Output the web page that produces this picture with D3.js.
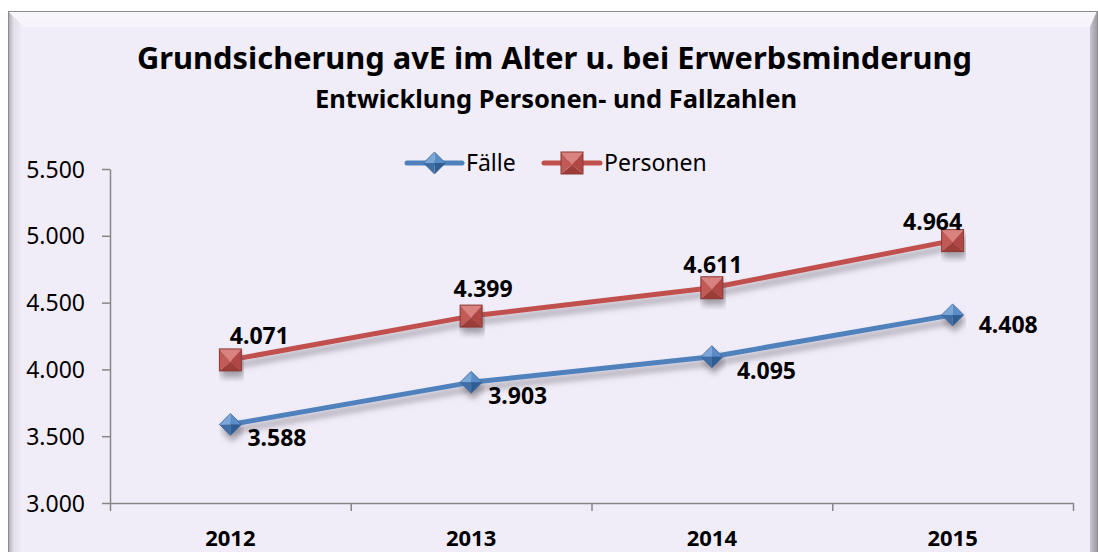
<!DOCTYPE html>
<html><head><meta charset="utf-8">
<script src="https://cdn.jsdelivr.net/npm/d3@7"></script>
<style>body{margin:0;background:#fff;}svg{display:block;}</style>
</head><body>
<script>
const years = ["2012", "2013", "2014", "2015"];
const faelle = [3588, 3903, 4095, 4408];
const personen = [4071, 4399, 4611, 4964];
const yTicks = [3000, 3500, 4000, 4500, 5000, 5500];
const seriesNames = ["Fälle", "Personen"];
const titleText = "Grundsicherung avE im Alter u. bei Erwerbsminderung";
const subtitleText = "Entwicklung Personen- und Fallzahlen";

// label placement offsets (style)
const faelleLabelOff = [[17, 22], [17, 22], [25, 22], [26, 18]];
const personenLabelOff = [[29, -16], [12, -19], [1, -15], [-20, -11]];

const W = 1098, H = 552;
const FONT = "'Noto Sans', 'Open Sans', sans-serif";
const svg = d3.select("body").append("svg").attr("width", W).attr("height", H);
const defs = svg.append("defs");

// gradients
const lg = defs.append("linearGradient").attr("id", "leftBevel").attr("x1", 0).attr("x2", 1).attr("y1", 0).attr("y2", 0);
lg.append("stop").attr("offset", "0").attr("stop-color", "#a9a6b0");
lg.append("stop").attr("offset", "0.35").attr("stop-color", "#e2dfe8");
lg.append("stop").attr("offset", "1").attr("stop-color", "#f3f0f9");
const tg = defs.append("linearGradient").attr("id", "topBevel").attr("x1", 0).attr("x2", 0).attr("y1", 0).attr("y2", 1);
tg.append("stop").attr("offset", "0").attr("stop-color", "#f9f8fc");
tg.append("stop").attr("offset", "1").attr("stop-color", "#f6f3fb");
const rg = defs.append("linearGradient").attr("id", "rightBevel").attr("x1", 0).attr("x2", 1).attr("y1", 0).attr("y2", 0);
rg.append("stop").attr("offset", "0").attr("stop-color", "#c9c5d0");
rg.append("stop").attr("offset", "1").attr("stop-color", "#9f9ca6");

const f = defs.append("filter").attr("id", "shadow").attr("x", "-10%").attr("y", "-50%").attr("width", "120%").attr("height", "200%");
f.append("feGaussianBlur").attr("in", "SourceAlpha").attr("stdDeviation", 3).attr("result", "b");
f.append("feOffset").attr("in", "b").attr("dx", 2).attr("dy", 6).attr("result", "o");
f.append("feFlood").attr("flood-color", "#6d6a75").attr("flood-opacity", 0.6);
f.append("feComposite").attr("in2", "o").attr("operator", "in").attr("result", "s");
const fm = f.append("feMerge");
fm.append("feMergeNode").attr("in", "s");
fm.append("feMergeNode").attr("in", "SourceGraphic");

// frame
const fx0 = 8, fy0 = 11, fx1 = 1097, fy1 = 560;
const bl = 16, bt = 16, br = 7;
svg.append("rect").attr("x", fx0).attr("y", fy0).attr("width", fx1 - fx0).attr("height", fy1 - fy0).attr("fill", "#f1edf8");
svg.append("polygon").attr("points", [[fx0, fy0], [fx0 + bl, fy0 + bt], [fx0 + bl, fy1], [fx0, fy1]].join(" ")).attr("fill", "url(#leftBevel)");
svg.append("polygon").attr("points", [[fx0, fy0], [fx1, fy0], [fx1 - br, fy0 + bt], [fx0 + bl, fy0 + bt]].join(" ")).attr("fill", "url(#topBevel)");
svg.append("polygon").attr("points", [[fx1, fy0], [fx1, fy1], [fx1 - br, fy1], [fx1 - br, fy0 + bt]].join(" ")).attr("fill", "url(#rightBevel)");
svg.append("rect").attr("x", fx0 + 0.5).attr("y", fy0 + 0.5).attr("width", fx1 - fx0).attr("height", fy1 - fy0).attr("fill", "none").attr("stroke", "#8c8c8c").attr("stroke-width", 1);

// titles
svg.append("text").attr("x", 554.5).attr("y", 69).attr("text-anchor", "middle")
  .attr("font-family", FONT).attr("font-weight", "bold").attr("font-size", 30).attr("fill", "#000")
  .attr("textLength", 835).attr("lengthAdjust", "spacingAndGlyphs").text(titleText);
svg.append("text").attr("x", 556).attr("y", 108).attr("text-anchor", "middle")
  .attr("font-family", FONT).attr("font-weight", "bold").attr("font-size", 25).attr("fill", "#000")
  .attr("textLength", 482).attr("lengthAdjust", "spacingAndGlyphs").text(subtitleText);

// scales
const x = d3.scaleBand().domain(years).range([110, 1073]).padding(0);
const cx = d => x(d) + x.bandwidth() / 2;
const xb = d3.scaleLinear().domain([0, years.length]).range([110, 1073]);
const y = d3.scaleLinear().domain([3000, 5500]).range([503, 169]);
const de = d3.formatLocale({decimal: ",", thousands: ".", grouping: [3], currency: ["", "€"]});
const fmt = de.format(",");

// y axis
const ya = svg.append("g").attr("transform", "translate(110,0)")
  .call(d3.axisLeft(y).tickValues(yTicks).tickSize(8).tickSizeOuter(0).tickPadding(17).tickFormat(fmt));
ya.select(".domain").attr("stroke", "#868686").attr("stroke-width", 1.5);
ya.selectAll(".tick line").attr("stroke", "#868686").attr("stroke-width", 1.5);
ya.selectAll(".tick text").attr("font-family", FONT).attr("font-size", 23).attr("fill", "#000").attr("dy", "0.35em");

// x axis
const xa = svg.append("g").attr("transform", "translate(0,503)")
  .call(d3.axisBottom(xb).ticks(years.length).tickSize(8).tickSizeOuter(0).tickFormat(""));
xa.select(".domain").attr("stroke", "#868686").attr("stroke-width", 1.5);
xa.selectAll(".tick line").attr("stroke", "#868686").attr("stroke-width", 1.5);
svg.append("g").selectAll("text").data(years).join("text")
  .attr("x", d => cx(d)).attr("y", 546).attr("text-anchor", "middle")
  .attr("font-family", FONT).attr("font-weight", "bold").attr("font-size", 22).attr("fill", "#000").text(d => d);

// markers
function diamond(g, px, py, s) {
  const T = [px, py - s], R = [px + s, py], B = [px, py + s], L = [px - s, py], C = [px, py];
  const faces = [[L, T, "#7aa6d8"], [T, R, "#5a8cc8"], [R, B, "#2f5d93"], [B, L, "#3f6ea6"]];
  faces.forEach(([a, b, c]) => g.append("polygon").attr("points", [a, b, C].join(" ")).attr("fill", c));
  g.append("polygon").attr("points", [T, R, B, L].join(" ")).attr("fill", "none").attr("stroke", "#3a6395").attr("stroke-width", 0.8);
}
function square(g, px, py, s) {
  const TL = [px - s, py - s], TR = [px + s, py - s], BR = [px + s, py + s], BL = [px - s, py + s], C = [px, py + 2];
  const faces = [[TL, TR, "#d9827f"], [TR, BR, "#b04744"], [BR, BL, "#9c3c39"], [BL, TL, "#c25a57"]];
  faces.forEach(([a, b, c]) => g.append("polygon").attr("points", [a, b, C].join(" ")).attr("fill", c));
  g.append("rect").attr("x", px - s).attr("y", py - s).attr("width", 2 * s).attr("height", 2 * s).attr("fill", "none").attr("stroke", "#8c3633").attr("stroke-width", 1);
}

const line = d3.line().x((d, i) => cx(years[i])).y(d => y(d));
const series = [
  {name: seriesNames[0], vals: faelle, color: "#4f81bd", mk: diamond, size: 11, off: faelleLabelOff, anchor: "start"},
  {name: seriesNames[1], vals: personen, color: "#c0504d", mk: square, size: 11, off: personenLabelOff, anchor: "middle"}
];

series.forEach(s => {
  svg.append("path").datum(s.vals).attr("d", line).attr("fill", "none").attr("stroke", s.color)
    .attr("stroke-width", 5).attr("stroke-linejoin", "round").attr("filter", "url(#shadow)");
});
series.forEach(s => {
  s.vals.forEach((v, i) => {
    const g = svg.append("g").attr("filter", "url(#shadow)");
    s.mk(g, cx(years[i]), y(v), s.size);
  });
  svg.append("g").selectAll("text").data(s.vals).join("text")
    .attr("x", (v, i) => cx(years[i]) + s.off[i][0]).attr("y", (v, i) => y(v) + s.off[i][1])
    .attr("text-anchor", s.anchor).attr("font-family", FONT).attr("font-weight", "bold").attr("font-size", 23).attr("fill", "#000")
    .text(v => fmt(v));
});

// legend
const legend = [
  {s: series[0], x0: 407, x1: 462, tx: 466},
  {s: series[1], x0: 544, x1: 600, tx: 604}
];
legend.forEach(l => {
  const ly = 163;
  svg.append("line").attr("x1", l.x0).attr("x2", l.x1).attr("y1", ly).attr("y2", ly)
    .attr("stroke", l.s.color).attr("stroke-width", 5).attr("stroke-linecap", "round");
  const g = svg.append("g");
  l.s.mk(g, (l.x0 + l.x1) / 2, ly, 11);
  svg.append("text").attr("x", l.tx).attr("y", ly).attr("dy", "0.35em")
    .attr("font-family", FONT).attr("font-size", 23).attr("fill", "#000").text(l.s.name);
});
</script>
</body></html>
